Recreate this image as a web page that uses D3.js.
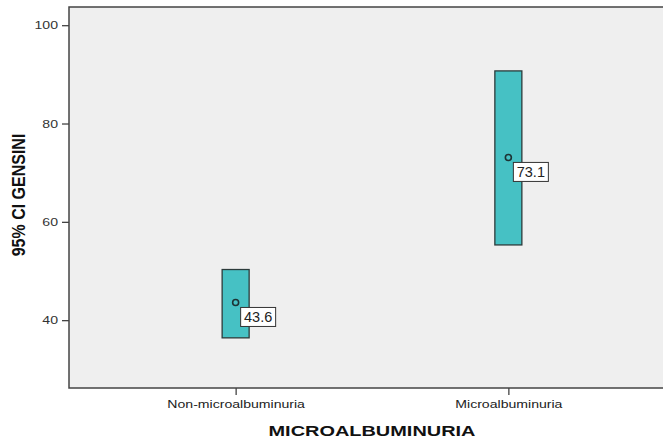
<!DOCTYPE html>
<html>
<head>
<meta charset="utf-8">
<script src="https://cdn.jsdelivr.net/npm/d3@7"></script>
<style>
  html, body { margin: 0; padding: 0; background: #ffffff; }
  svg { display: block; }
</style>
</head>
<body>
<svg id="chart" width="663" height="441"></svg>
<script>
// Mean GENSINI score with 95% confidence interval by microalbuminuria group
const categories = ["Non-microalbuminuria", "Microalbuminuria"];
const means = [43.6, 73.1];
const ciLower = [36.4, 55.3];
const ciUpper = [50.3, 90.7];
const yTicks = [40, 60, 80, 100];

const FONT = "Arial, 'Liberation Sans', sans-serif";
const STRETCH = 1.28; // horizontally widened lettering

const svg = d3.select("#chart");
const plot = { left: 69, right: 675, top: 7, bottom: 388 };

const x = d3.scalePoint()
  .domain(categories)
  .range([plot.left, plot.right])
  .padding(0.611);

const y = d3.scaleLinear()
  .domain([26.2, 103.7])
  .range([plot.bottom, plot.top]);

// plot frame
svg.append("rect")
  .attr("x", plot.left).attr("y", plot.top)
  .attr("width", plot.right - plot.left)
  .attr("height", plot.bottom - plot.top)
  .attr("fill", "#efefef")
  .attr("stroke", "#444")
  .attr("stroke-width", 1.5);

// y axis
const yAxis = svg.append("g")
  .attr("transform", `translate(${plot.left},0)`)
  .call(d3.axisLeft(y).tickValues(yTicks).tickSize(7).tickPadding(4).tickFormat(d3.format("d")));
yAxis.select(".domain").remove();
yAxis.selectAll(".tick line").attr("stroke", "#444").attr("stroke-width", 1.3);
yAxis.selectAll(".tick text")
  .attr("x", -11 / STRETCH)
  .attr("transform", `scale(${STRETCH},1)`)
  .attr("font-family", FONT)
  .attr("font-size", 11).attr("fill", "#333");

// x axis
const xAxis = svg.append("g")
  .attr("transform", `translate(0,${plot.bottom})`)
  .call(d3.axisBottom(x).tickSize(7).tickPadding(5));
xAxis.select(".domain").remove();
xAxis.selectAll(".tick line").attr("stroke", "#444").attr("stroke-width", 1.3);
xAxis.selectAll(".tick text")
  .attr("transform", `scale(${STRETCH},1)`)
  .attr("font-family", FONT)
  .attr("font-size", 11).attr("fill", "#222");

// axis titles
svg.append("text")
  .attr("transform", `translate(25,195) scale(1.15,1) rotate(-90)`)
  .attr("text-anchor", "middle")
  .attr("font-family", FONT)
  .attr("font-size", 16).attr("font-weight", "bold").attr("fill", "#111")
  .text("95% CI GENSINI");

svg.append("text")
  .attr("transform", `translate(372,436) scale(1.33,1)`)
  .attr("text-anchor", "middle")
  .attr("font-family", FONT)
  .attr("font-size", 15).attr("font-weight", "bold").attr("fill", "#111")
  .text("MICROALBUMINURIA");

const barW = 27;
const rows = categories.map((c, i) => ({ c, mean: means[i], lo: ciLower[i], hi: ciUpper[i] }));

// CI bars
svg.append("g").selectAll("rect")
  .data(rows).join("rect")
  .attr("x", d => x(d.c) - barW / 2)
  .attr("y", d => y(d.hi))
  .attr("width", barW)
  .attr("height", d => y(d.lo) - y(d.hi))
  .attr("fill", "#46c1c4")
  .attr("stroke", "#2c3b3b")
  .attr("stroke-width", 1.3);

// mean markers
svg.append("g").selectAll("circle")
  .data(rows).join("circle")
  .attr("cx", d => x(d.c))
  .attr("cy", d => y(d.mean))
  .attr("r", 3)
  .attr("fill", "none")
  .attr("stroke", "#1d3334")
  .attr("stroke-width", 1.6);

// value labels
const lab = svg.append("g").selectAll("g")
  .data(rows).join("g")
  .attr("transform", d => `translate(${x(d.c) + 5},${y(d.mean) + 5})`);
lab.append("rect")
  .attr("width", 35).attr("height", 19)
  .attr("fill", "#fff")
  .attr("stroke", "#333").attr("stroke-width", 1);
lab.append("text")
  .attr("x", 17.5).attr("y", 15)
  .attr("text-anchor", "middle")
  .attr("font-family", FONT)
  .attr("font-size", 14.5).attr("fill", "#222")
  .text(d => d3.format(".1f")(d.mean));
</script>
</body>
</html>
